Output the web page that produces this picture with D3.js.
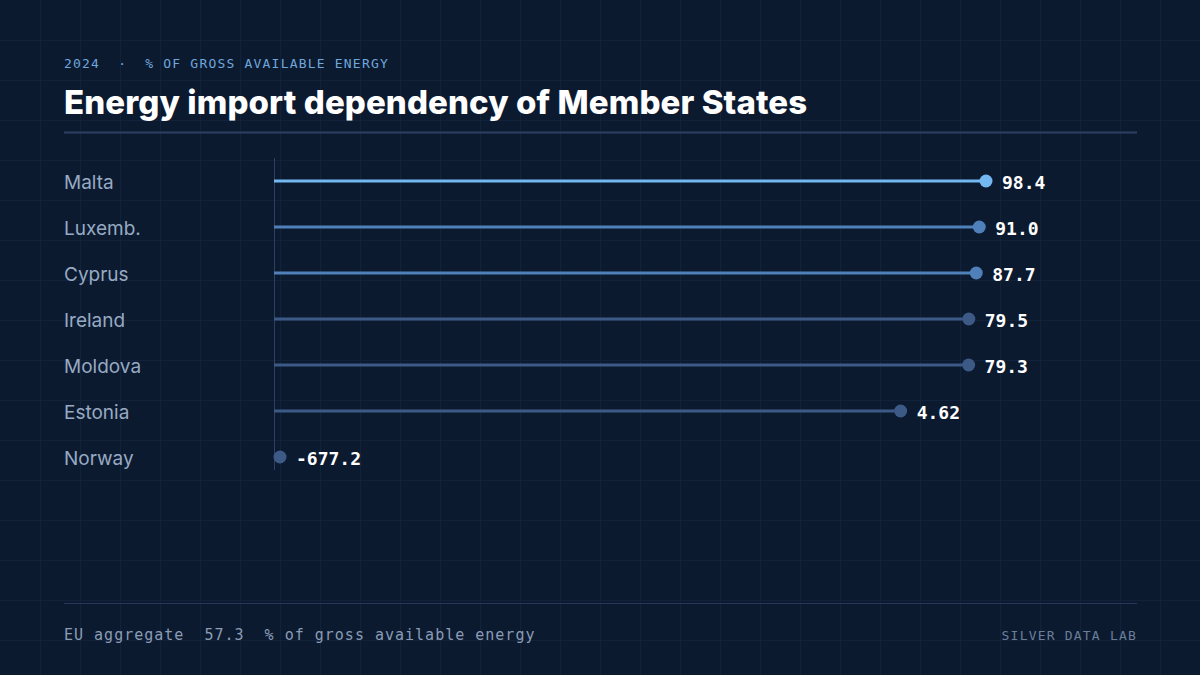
<!DOCTYPE html>
<html>
<head>
<meta charset="utf-8">
<script src="https://cdn.jsdelivr.net/npm/d3@7"></script>
<style>
  html, body { margin: 0; padding: 0; background: #0c1a30; }
  svg { display: block; }
</style>
</head>
<body>
<div id="viz"></div>
<script>
// data
var countries = ['Malta', 'Luxemb.', 'Cyprus', 'Ireland', 'Moldova', 'Estonia', 'Norway'];
var values = [98.4, 91.0, 87.7, 79.5, 79.3, 4.62, -677.2];
var valueLabels = ['98.4', '91.0', '87.7', '79.5', '79.3', '4.62', '-677.2'];
var euAggregate = 57.3;

var W = 1200, H = 675,
  margin = { top: 158, right: 64, bottom: 200, left: 64 },
  axisX = 274;

var svg = d3.select('#viz').append('svg')
  .attr('width', W)
  .attr('height', H);

svg.append('rect').attr('width', W).attr('height', H).attr('fill', '#0c1a30');

// background grid
var grid = svg.append('g').attr('stroke', '#13223b').attr('stroke-width', 1);
grid.selectAll('line.v').data(d3.range(40, W, 40)).enter().append('line')
  .attr('x1', function(d) { return d + 0.5; }).attr('x2', function(d) { return d + 0.5; })
  .attr('y1', 0).attr('y2', H);
grid.selectAll('line.h').data(d3.range(40, H, 40)).enter().append('line')
  .attr('y1', function(d) { return d + 0.5; }).attr('y2', function(d) { return d + 0.5; })
  .attr('x1', 0).attr('x2', W);

// header
svg.append('text')
  .attr('x', 64).attr('y', 68)
  .style('font', '13px "DejaVu Sans Mono", monospace')
  .style('letter-spacing', '1.2px')
  .attr('fill', '#6fa6dc')
  .attr('xml:space', 'preserve')
  .text('2024  \u00b7  % OF GROSS AVAILABLE ENERGY');

svg.append('text')
  .attr('x', 64).attr('y', 114)
  .style('font', '800 33px Inter, sans-serif')
  .style('letter-spacing', '0.1px')
  .attr('fill', '#ffffff')
  .text('Energy import dependency of Member States');

svg.append('line')
  .attr('x1', 64).attr('x2', 1137).attr('y1', 132.5).attr('y2', 132.5)
  .attr('stroke', '#2b4063').attr('stroke-width', 2);

// scales
var xScale = d3.scaleLinear()
  .domain([d3.min(values), d3.max(values)])
  .range([280, 986]);

var yScale = d3.scalePoint()
  .domain(countries)
  .range([181, 457]);

var colors = d3.scaleThreshold()
  .domain([85, 95])
  .range(['#3d5a86', '#4f80ba', '#74b8f2']);

svg.append('line')
  .attr('x1', axisX + 0.5).attr('x2', axisX + 0.5)
  .attr('y1', margin.top).attr('y2', 470)
  .attr('stroke', '#2b4063').attr('stroke-width', 1);

var rows = svg.append('g').selectAll('g')
  .data(countries)
  .enter().append('g');

rows.append('text')
  .attr('x', 64)
  .attr('y', function(d) { return yScale(d) + 8; })
  .style('font', '19px Inter, sans-serif')
  .attr('fill', '#97aac3')
  .text(function(d) { return d; });

rows.append('line')
  .attr('x1', axisX)
  .attr('x2', function(d, i) { return Math.max(axisX, xScale(values[i]) - 6); })
  .attr('y1', function(d) { return yScale(d); })
  .attr('y2', function(d) { return yScale(d); })
  .attr('stroke', function(d, i) { return colors(values[i]); })
  .attr('stroke-width', 3);

rows.append('circle')
  .attr('cx', function(d, i) { return xScale(values[i]); })
  .attr('cy', function(d) { return yScale(d); })
  .attr('r', 6.5)
  .attr('fill', function(d, i) { return colors(values[i]); });

rows.append('text')
  .attr('x', function(d, i) { return xScale(values[i]) + 16; })
  .attr('y', function(d) { return yScale(d) + 8; })
  .style('font', '700 18px "DejaVu Sans Mono", monospace')
  .attr('fill', '#ffffff')
  .text(function(d, i) { return valueLabels[i]; });

// footer
svg.append('line')
  .attr('x1', 64).attr('x2', 1137).attr('y1', 603.5).attr('y2', 603.5)
  .attr('stroke', '#25375a').attr('stroke-width', 1);

svg.append('text')
  .attr('x', 64).attr('y', 640)
  .style('font', '15px "DejaVu Sans Mono", monospace')
  .style('letter-spacing', '1px')
  .attr('fill', '#8a9cb6')
  .attr('xml:space', 'preserve')
  .text('EU aggregate  ' + euAggregate.toFixed(1) + '  % of gross available energy');

svg.append('text')
  .attr('x', 1137).attr('y', 640)
  .attr('text-anchor', 'end')
  .style('font', '13px "DejaVu Sans Mono", monospace')
  .style('letter-spacing', '1.2px')
  .attr('fill', '#6b7e9a')
  .text('SILVER DATA LAB');
</script>
</body>
</html>
